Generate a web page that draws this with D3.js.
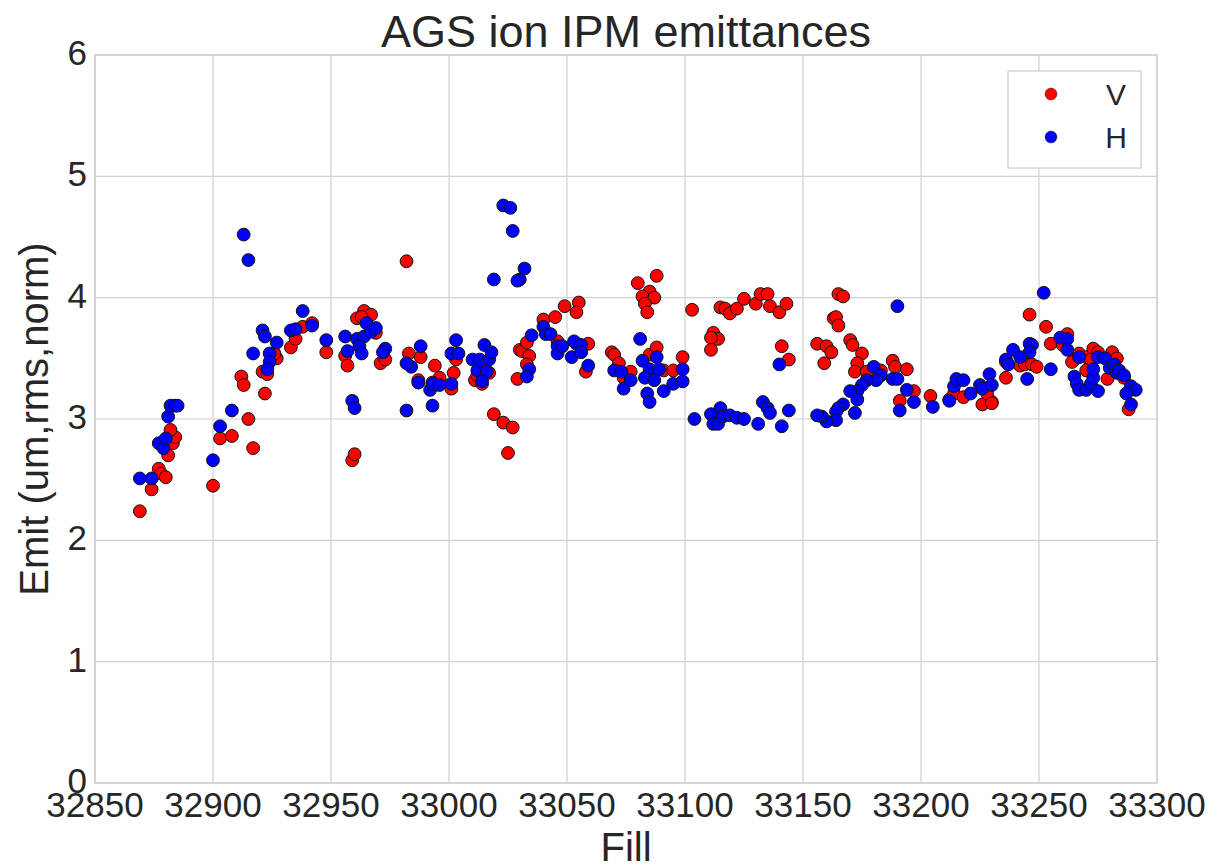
<!DOCTYPE html>
<html>
<head>
<meta charset="utf-8">
<script src="https://cdn.jsdelivr.net/npm/d3@7"></script>
<style>
  body { margin: 0; background: #fff; }
  svg { font-family: "Liberation Sans", Arial, sans-serif; }
  .grid line { stroke: #d0d0d0; stroke-width: 1.2; }
  .tick-label { fill: #262626; font-size: 35px; }
</style>
</head>
<body>
<svg id="chart" width="1213" height="866"></svg>
<script>
// V (vertical) emittance by fill
const vFill = [32869,32874,32877,32878,32880,32881,32883,32884,32882,32900,32903,32908,32912,32913,32915,32917,
  32922,32921,32923,32927,32926,32933,32935,32938,32942,32948,32956,32957,32961,32959,32960,32964,32967,32963,
  32969,32971,32973,32982,32983,32988,32987,32994,32996,32993,33001,33002,33003,33011,33012,33014,33015,33017,
  33019,33023,33027,33025,33029,33030,33031,33034,33033,33033,33040,33045,33049,33055,33054,33046,33059,33058,
  33080,33088,33085,33082,33087,33083,33084,33069,33070,33072,33077,33074,33085,33088,33091,33095,33099,33103,
  33115,33117,33119,33122,33125,33130,33132,33135,33136,33140,33143,33112,33114,33111,33111,33141,33144,33165,
  33167,33163,33164,33165,33156,33160,33162,33159,33170,33171,33175,33173,33172,33177,33183,33188,33189,33194,
  33197,33191,33204,33212,33214,33218,33226,33230,33228,33230,33236,33246,33253,33255,33260,33262,33236,33242,
  33244,33247,33249,33265,33264,33267,33270,33273,33275,33272,33281,33283,33279,33270,33288,33286];
const vEmit = [2.24,2.42,2.59,2.55,2.52,2.70,2.80,2.85,2.91,2.45,2.84,2.86,3.35,3.28,3.00,2.76,
  3.21,3.39,3.37,3.50,3.54,3.59,3.66,3.76,3.79,3.55,3.52,3.44,3.83,2.66,2.71,3.89,3.86,3.84,
  3.71,3.46,3.49,4.30,3.54,3.51,3.32,3.44,3.34,3.30,3.25,3.38,3.49,3.32,3.36,3.29,3.43,3.38,
  3.04,2.97,2.93,2.72,3.33,3.57,3.56,3.52,3.45,3.63,3.82,3.84,3.93,3.96,3.88,3.64,3.62,3.39,
  4.12,4.18,4.05,4.01,4.00,3.95,3.88,3.55,3.53,3.46,3.39,3.34,3.53,3.59,3.40,3.40,3.51,3.90,
  3.92,3.91,3.87,3.91,3.99,3.95,4.03,4.03,3.93,3.88,3.95,3.71,3.66,3.67,3.57,3.60,3.49,4.03,
  4.01,3.83,3.84,3.77,3.62,3.60,3.55,3.46,3.65,3.61,3.54,3.46,3.39,3.39,3.40,3.48,3.43,3.41,
  3.23,3.15,3.19,3.16,3.21,3.18,3.12,3.14,3.21,3.13,3.34,3.86,3.76,3.62,3.61,3.70,3.47,3.44,
  3.45,3.45,3.43,3.49,3.47,3.54,3.51,3.58,3.55,3.49,3.55,3.50,3.33,3.40,3.08,3.34];

// H (horizontal) emittance by fill
const hFill = [32869,32874,32877,32879,32880,32881,32882,32884,32885,32900,32903,32908,32913,32915,32917,32921,
  32922,32924,32924,32923,32927,32933,32935,32938,32942,32948,32956,32957,32961,32959,32960,32964,32962,32963,
  32965,32967,32969,32973,32972,32982,32984,32982,32988,32987,32992,32993,32993,32996,33001,33001,33004,33003,
  33010,33012,33013,33015,33016,33017,33018,33014,33019,33023,33026,33027,33032,33030,33029,33034,33033,33035,
  33040,33041,33043,33046,33046,33048,33052,33054,33053,33056,33056,33059,33070,33073,33074,33077,33081,33082,
  33088,33085,33089,33083,33087,33084,33085,33091,33095,33099,33099,33104,33111,33112,33115,33114,33116,33119,
  33122,33125,33131,33133,33135,33136,33141,33144,33140,33190,33180,33183,33181,33177,33175,33173,33170,33173,
  33172,33167,33165,33164,33164,33160,33158,33156,33188,33190,33194,33191,33197,33205,33212,33214,33215,33218,
  33221,33225,33226,33229,33230,33252,33246,33247,33246,33239,33236,33237,33242,33245,33255,33259,33262,33262,
  33267,33265,33266,33267,33270,33272,33273,33273,33275,33275,33278,33280,33282,33283,33284,33286,33289,33291,
  33287,33289];
const hEmit = [2.51,2.51,2.80,2.76,2.84,3.02,3.11,3.11,3.11,2.66,2.94,3.07,4.52,4.31,3.54,3.73,
  3.68,3.54,3.47,3.41,3.63,3.73,3.74,3.89,3.77,3.65,3.68,3.56,3.66,3.15,3.09,3.68,3.60,3.54,
  3.79,3.72,3.75,3.58,3.55,3.07,3.43,3.46,3.60,3.30,3.24,3.11,3.29,3.28,3.29,3.54,3.54,3.65,
  3.49,3.40,3.49,3.61,3.39,3.49,3.55,3.31,4.15,4.76,4.74,4.55,4.24,4.15,4.14,3.41,3.35,3.69,
  3.76,3.70,3.70,3.60,3.54,3.60,3.51,3.62,3.64,3.61,3.55,3.44,3.40,3.39,3.25,3.32,3.66,3.48,
  3.51,3.41,3.41,3.34,3.32,3.21,3.14,3.23,3.29,3.31,3.41,3.00,3.04,2.96,3.09,2.96,3.02,3.03,
  3.01,3.00,2.96,3.14,3.09,3.05,2.94,3.07,3.45,3.93,3.43,3.36,3.32,3.32,3.28,3.23,3.23,3.16,
  3.05,3.12,3.09,3.06,2.99,2.98,3.02,3.03,3.33,3.33,3.24,3.07,3.14,3.10,3.15,3.27,3.33,3.32,
  3.21,3.28,3.25,3.37,3.28,4.04,3.62,3.61,3.55,3.57,3.49,3.45,3.51,3.33,3.41,3.67,3.66,3.57,
  3.51,3.35,3.29,3.24,3.24,3.29,3.34,3.41,3.23,3.51,3.50,3.42,3.45,3.38,3.40,3.36,3.27,3.24,
  3.21,3.12];

const xTicks = [32850, 32900, 32950, 33000, 33050, 33100, 33150, 33200, 33250, 33300];
const yTicks = [0, 1, 2, 3, 4, 5, 6];
const seriesNames = ["V", "H"];
const seriesColors = ["#ff0000", "#0000ff"];

const svg = d3.select("#chart");
const margin = { left: 95, right: 56, top: 55, bottom: 83 };
const width = 1213 - margin.left - margin.right;
const height = 866 - margin.top - margin.bottom;

const x = d3.scaleLinear().domain([32850, 33300]).range([0, width]);
const y = d3.scaleLinear().domain([0, 6]).range([height, 0]);

const g = svg.append("g")
  .attr("transform", "translate(" + margin.left + "," + margin.top + ")");

// grid
const grid = g.append("g").attr("class", "grid");
grid.selectAll("line.vx")
  .data(xTicks)
  .enter()
  .append("line")
  .attr("x1", d => x(d)).attr("x2", d => x(d))
  .attr("y1", 0).attr("y2", height);
grid.selectAll("line.hy")
  .data(yTicks)
  .enter()
  .append("line")
  .attr("x1", 0).attr("x2", width)
  .attr("y1", d => y(d)).attr("y2", d => y(d));

// frame
g.append("rect")
  .attr("width", width).attr("height", height)
  .attr("fill", "none").attr("stroke", "#d0d0d0").attr("stroke-width", 1.5);

// tick labels
g.selectAll("text.xt")
  .data(xTicks)
  .enter()
  .append("text")
  .attr("class", "tick-label")
  .attr("x", d => x(d))
  .attr("y", height + 34)
  .attr("text-anchor", "middle")
  .text(d => d);

g.selectAll("text.yt")
  .data(yTicks)
  .enter()
  .append("text")
  .attr("class", "tick-label")
  .attr("x", -8)
  .attr("y", d => y(d) + 10)
  .attr("text-anchor", "end")
  .text(d => d);

// points, V first then H on top
const series = [
  { name: "V", fill: vFill, emit: vEmit, color: seriesColors[0] },
  { name: "H", fill: hFill, emit: hEmit, color: seriesColors[1] }
];

series.forEach(s => {
  g.append("g")
    .selectAll("circle")
    .data(s.fill.map((f, i) => ({ f: f, e: s.emit[i] })))
    .enter()
    .append("circle")
    .attr("cx", d => x(d.f))
    .attr("cy", d => y(d.e))
    .attr("r", 6.4)
    .attr("fill", s.color)
    .attr("stroke", "#111")
    .attr("stroke-width", 1);
});

// title and axis labels
svg.append("text")
  .attr("x", margin.left + width / 2)
  .attr("y", 47)
  .attr("text-anchor", "middle")
  .attr("fill", "#262626")
  .style("font-size", "45px")
  .text("AGS ion IPM emittances");

svg.append("text")
  .attr("x", margin.left + width / 2)
  .attr("y", 861)
  .attr("text-anchor", "middle")
  .attr("fill", "#262626")
  .style("font-size", "40px")
  .text("Fill");

svg.append("text")
  .attr("transform", "translate(48," + (margin.top + height / 2) + ") rotate(-90)")
  .attr("text-anchor", "middle")
  .attr("fill", "#262626")
  .style("font-size", "40px")
  .text("Emit (um,rms,norm)");

// legend
const legend = svg.append("g").attr("transform", "translate(1008,71)");
legend.append("rect")
  .attr("width", 133).attr("height", 97)
  .attr("fill", "#fff").attr("stroke", "#cccccc").attr("stroke-width", 1.2);
const items = legend.selectAll("g.item")
  .data(seriesNames)
  .enter()
  .append("g")
  .attr("transform", (d, i) => "translate(0," + (23 + i * 43) + ")");
items.append("circle")
  .attr("cx", 43).attr("cy", 0).attr("r", 6)
  .attr("fill", (d, i) => seriesColors[i])
  .attr("stroke", "#222").attr("stroke-width", 0.5);
items.append("text")
  .attr("x", 108).attr("y", 11)
  .attr("text-anchor", "middle")
  .attr("fill", "#262626")
  .style("font-size", "30px")
  .text(d => d);
</script>
</body>
</html>
